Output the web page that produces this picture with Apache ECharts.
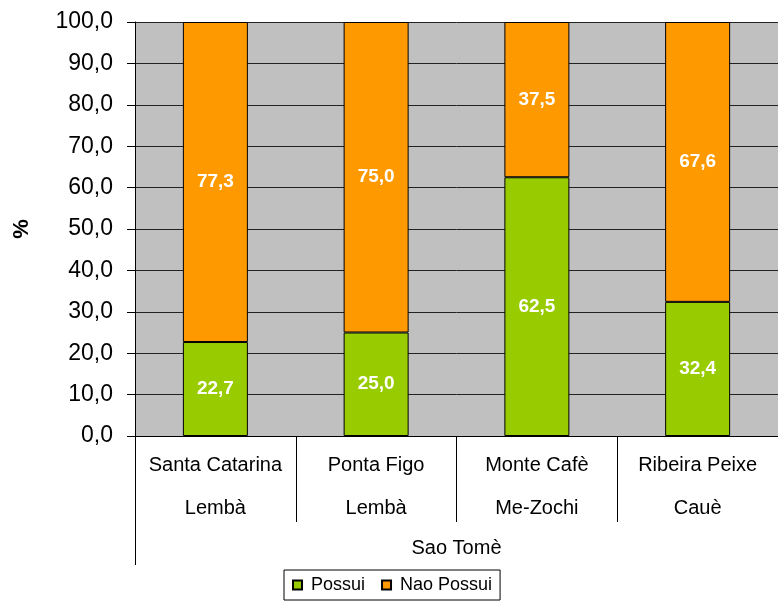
<!DOCTYPE html>
<html>
<head>
<meta charset="utf-8">
<script src="https://cdn.jsdelivr.net/npm/echarts@6/dist/echarts.min.js"></script>
<style>
  html, body { margin: 0; padding: 0; background: #fff; }
  #main { width: 778px; height: 601px; }
</style>
</head>
<body>
<div id="main"></div>
<script>
const sites = ['Santa Catarina', 'Ponta Figo', 'Monte Cafè', 'Ribeira Peixe'];
const districts = ['Lembà', 'Lembà', 'Me-Zochi', 'Cauè'];
const island = ['Sao Tomè'];
const possui = [22.7, 25.0, 62.5, 32.4];
const naoPossui = [77.3, 75.0, 37.5, 67.6];

const font = '"Liberation Sans", Arial, sans-serif';
const fmt = v => v.toFixed(1).replace('.', ',');

const myChart = echarts.init(document.getElementById('main'));

const barLabel = {
    show: true, position: 'inside', formatter: p => fmt(p.value),
    color: '#fff', fontWeight: 'bold', fontSize: 19, fontFamily: font
};

const option = {
    color: ['#99CC00', '#FF9900'],
    textStyle: { fontFamily: font },
    grid: {
        left: 135, right: 0, top: 22, bottom: 165,
        show: true, backgroundColor: '#C0C0C0', borderWidth: 0
    },
    legend: {
        left: 284, top: 570,
        data: ['Possui', 'Nao Possui'],
        icon: 'rect', itemWidth: 9, itemHeight: 9, itemGap: 16,
        borderColor: '#000', borderWidth: 1, padding: [6, 8, 6, 8],
        textStyle: { fontFamily: font, fontSize: 18, color: '#000', padding: [0, 0, 0, 4] }
    },
    xAxis: [
        {
            type: 'category',
            data: sites.map((s, i) => s + '\n' + districts[i]),
            axisLine: { lineStyle: { color: '#000' } },
            axisTick: { show: true, length: 86, interval: 0, lineStyle: { color: '#000' } },
            axisLabel: {
                interval: 0, margin: 8, lineHeight: 43,
                fontFamily: font, fontSize: 20, color: '#000'
            }
        },
        {
            type: 'category',
            position: 'bottom',
            data: island,
            axisLine: { show: false },
            axisTick: { show: true, length: 129, lineStyle: { color: '#000' } },
            axisLabel: { margin: 102, fontFamily: font, fontSize: 20, color: '#000' }
        }
    ],
    yAxis: {
        type: 'value', min: 0, max: 100, interval: 10,
        name: '%', nameLocation: 'middle', nameGap: 102, nameRotate: 90,
        nameTextStyle: { fontFamily: font, fontSize: 22, fontWeight: 'bold', color: '#000' },
        axisLine: { show: true, lineStyle: { color: '#000' } },
        axisTick: { show: true, length: 8, lineStyle: { color: '#000' } },
        axisLabel: { formatter: fmt, fontFamily: font, fontSize: 23, color: '#000', margin: 22 },
        splitLine: { lineStyle: { color: '#222', width: 1 } }
    },
    series: [
        {
            name: 'Possui', type: 'bar', stack: 'tot', data: possui, barWidth: 65,
            itemStyle: { borderColor: '#000', borderWidth: 1 },
            label: barLabel
        },
        {
            name: 'Nao Possui', type: 'bar', stack: 'tot', data: naoPossui, barWidth: 65,
            itemStyle: { borderColor: '#000', borderWidth: 1 },
            label: barLabel
        }
    ]
};

myChart.setOption(option);
</script>
</body>
</html>
